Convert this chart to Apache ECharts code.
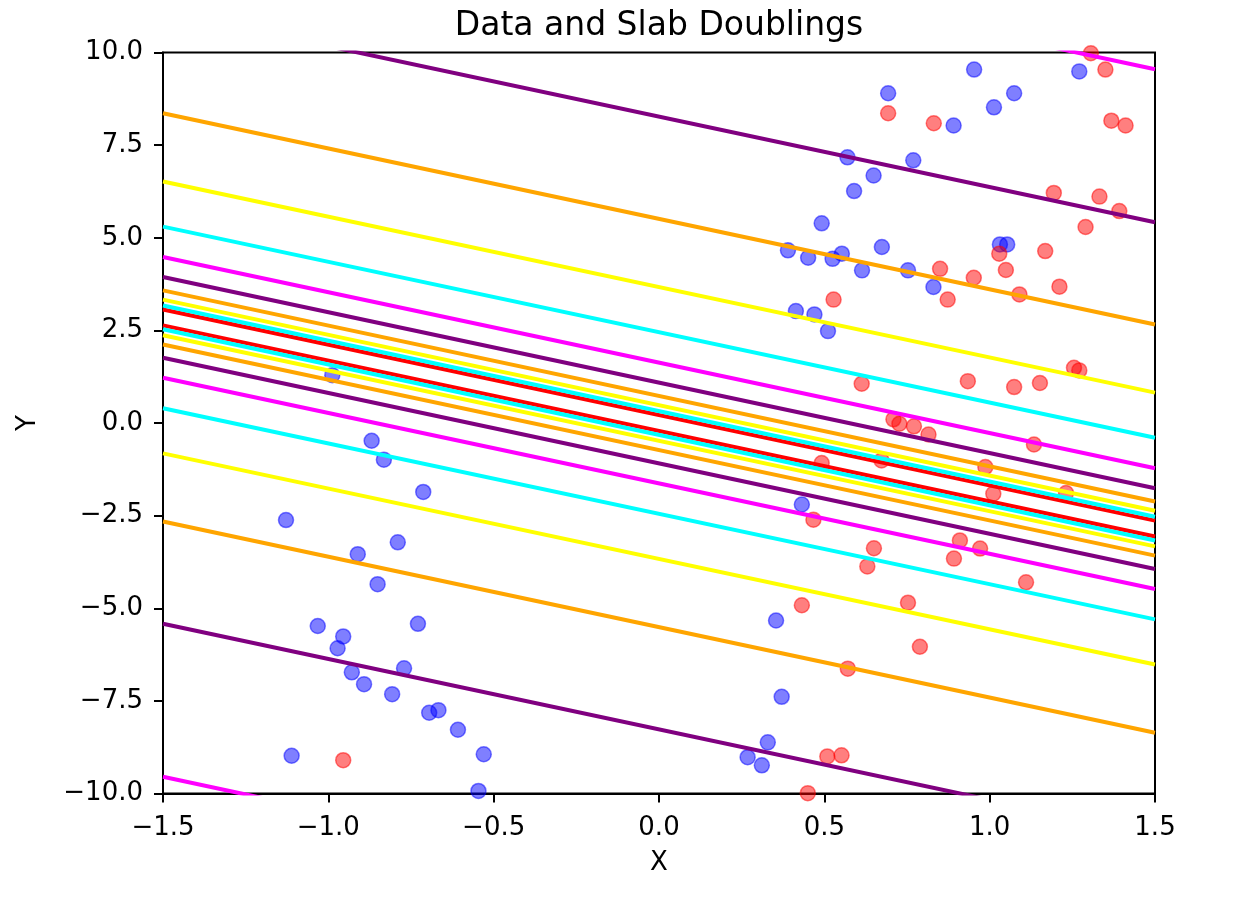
<!DOCTYPE html>
<html>
<head>
<meta charset="utf-8">
<script src="https://cdn.jsdelivr.net/npm/echarts@6/dist/echarts.min.js"></script>
<style>
html, body { margin: 0; padding: 0; background: #fff; }
#chart { width: 1258px; height: 922px; }
</style>
</head>
<body>
<div id="chart"></div>
<script>
// data
var blueX = [0.953, 1.271, 0.693, 1.074, 1.013, 0.891, 0.570, 0.769, 0.649, 0.590,
             0.492, 0.390, 0.451, 0.525, 0.553, 0.674, 0.614, 0.753, 1.031, 1.053,
             0.830, 0.414, 0.470, 0.511, 0.432, 0.354, 0.371, 0.329, 0.268, 0.311,
             -0.988, -0.869, -0.832, -0.713, -1.128, -0.790, -0.911, -0.851, -1.032, -0.729,
             -0.955, -0.972, -0.771, -0.929, -0.892, -0.807, -0.695, -0.667, -0.608, -1.111,
             -0.530, -0.546];
var blueY = [9.54, 9.49, 8.90, 8.90, 8.52, 8.03, 7.17, 7.09, 6.68, 6.26,
             5.39, 4.66, 4.46, 4.43, 4.57, 4.75, 4.12, 4.12, 4.82, 4.82,
             3.67, 3.02, 2.93, 2.48, -2.20, -5.33, -7.39, -8.62, -9.02, -9.24,
             1.29, -0.48, -0.99, -1.86, -2.62, -3.22, -3.54, -4.35, -5.48, -5.42,
             -5.76, -6.08, -6.62, -6.73, -7.05, -7.32, -7.82, -7.75, -8.28, -8.98,
             -8.94, -9.93];
var redX = [1.306, 1.350, 0.693, 0.831, 1.368, 1.411, 1.194, 1.332, 1.392, 1.290,
            1.168, 1.029, 1.049, 0.850, 0.952, 1.211, 1.090, 0.528, 0.873, 1.255,
            1.271, 0.613, 0.934, 1.074, 1.152, 0.709, 0.727, 0.771, 0.815, 1.134,
            0.492, 0.673, 0.987, 1.011, 1.231, 0.467, 0.650, 0.630, 0.910, 0.971,
            0.892, 1.110, 0.432, 0.753, 0.789, 0.571, 0.509, 0.552, 0.450, -0.955];
var redY = [9.98, 9.54, 8.36, 8.09, 8.16, 8.03, 6.21, 6.11, 5.72, 5.29,
            4.64, 4.57, 4.13, 4.16, 3.92, 3.68, 3.47, 3.33, 3.33, 1.49,
            1.42, 1.06, 1.13, 0.97, 1.08, 0.10, -0.02, -0.09, -0.31, -0.58,
            -1.08, -1.01, -1.19, -1.91, -1.89, -2.61, -3.38, -3.87, -3.17, -3.39,
            -3.66, -4.30, -4.92, -4.85, -6.04, -6.63, -9.00, -8.97, -9.99, -9.10];

// slab lines: y = slope * x +/- offset
var slope = -1.9;
var offsets = [0.215, 0.32, 0.48, 0.73, 1.09, 1.63, 2.45, 3.67, 5.51, 8.27, 12.4];
var lineColors = ['#ff0000', '#00ffff', '#ffff00', '#ffa500', '#800080', '#ff00ff',
                  '#00ffff', '#ffff00', '#ffa500', '#800080', '#ff00ff'];
var xRange = [-1.5, 1.5];

function pairs(xs, ys) {
    return xs.map(function (x, i) { return [x, ys[i]]; });
}
function fmt(v) {
    return v.toFixed(1).replace('-', '\u2212');
}

var series = [
    {
        type: 'scatter', data: pairs(blueX, blueY), symbolSize: 15, z: 2,
        itemStyle: { color: 'rgba(0,0,255,0.5)', borderColor: 'rgba(0,0,255,0.5)', borderWidth: 1.5, opacity: 1 }
    },
    {
        type: 'scatter', data: pairs(redX, redY), symbolSize: 15, z: 2,
        itemStyle: { color: 'rgba(255,0,0,0.5)', borderColor: 'rgba(255,0,0,0.5)', borderWidth: 1.5, opacity: 1 }
    }
];

offsets.forEach(function (k, i) {
    [1, -1].forEach(function (s) {
        series.push({
            type: 'line',
            data: xRange.map(function (x) { return [x, slope * x + s * k]; }),
            showSymbol: false, symbol: 'none', clip: true, silent: true, z: 3,
            lineStyle: { color: lineColors[i], width: 4 }
        });
    });
});

var axisFont = { fontFamily: 'DejaVu Sans', fontSize: 26, color: '#000' };

var chart = echarts.init(document.getElementById('chart'));
chart.setOption({
    animation: false,
    backgroundColor: '#fff',
    title: {
        text: 'Data and Slab Doublings',
        left: 654, top: 5, textAlign: 'center',
        textStyle: { fontFamily: 'DejaVu Sans', fontSize: 33, fontWeight: 'normal', color: '#000' }
    },
    grid: {
        left: 163, top: 52.5, width: 992, height: 741,
        show: true, borderColor: '#000', borderWidth: 2, backgroundColor: 'transparent'
    },
    xAxis: {
        type: 'value', min: -1.5, max: 1.5, interval: 0.5,
        name: 'X', nameLocation: 'middle', nameGap: 57,
        nameTextStyle: axisFont,
        axisLine: { show: true, onZero: false, lineStyle: { color: '#000', width: 2 } },
        axisTick: { show: true, inside: false, length: 9, lineStyle: { color: '#000', width: 2 } },
        axisLabel: Object.assign({ margin: 22, formatter: fmt }, axisFont),
        splitLine: { show: false }
    },
    yAxis: {
        type: 'value', min: -10, max: 10, interval: 2.5,
        name: 'Y', nameLocation: 'middle', nameGap: 122, nameRotate: 90,
        nameTextStyle: axisFont,
        axisLine: { show: true, onZero: false, lineStyle: { color: '#000', width: 2 } },
        axisTick: { show: true, inside: false, length: 9, lineStyle: { color: '#000', width: 2 } },
        axisLabel: Object.assign({ margin: 20, formatter: fmt }, axisFont),
        splitLine: { show: false }
    },
    series: series
});
</script>
</body>
</html>
